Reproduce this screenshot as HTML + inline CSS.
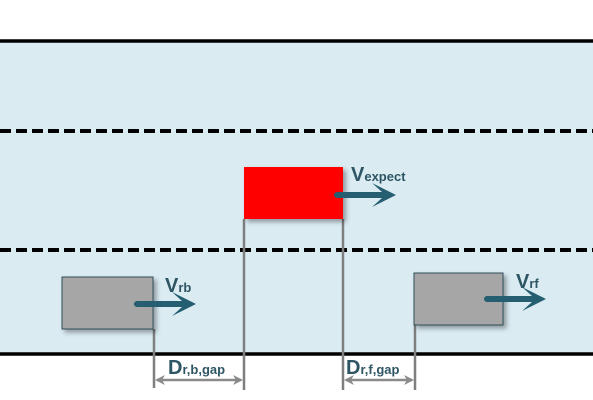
<!DOCTYPE html>
<html><head><meta charset="utf-8"><style>
body{margin:0;background:#fff}
svg{display:block;font-family:"Liberation Sans",sans-serif;font-weight:bold}
</style></head><body>
<svg width="593" height="400" viewBox="0 0 593 400">
<defs>
<filter id="sh" x="-20%" y="-20%" width="150%" height="160%"><feDropShadow dx="3" dy="3" stdDeviation="2.5" flood-color="#000" flood-opacity="0.35"/></filter>
<marker id="ah" viewBox="0 0 10 10" refX="8" refY="5" markerWidth="4" markerHeight="4" orient="auto-start-reverse"><path d="M0,0 L10,5 L0,10 L3,5 Z" fill="#8a8a8a"/></marker>
</defs>
<rect x="0" y="41" width="593" height="313" fill="#daebf2"/>
<line x1="0" y1="41" x2="593" y2="41" stroke="#000" stroke-width="3.5"/>
<line x1="0" y1="354" x2="593" y2="354" stroke="#000" stroke-width="3.5"/>
<line x1="0" y1="131" x2="593" y2="131" stroke="#000" stroke-width="4" stroke-dasharray="11,5"/>
<line x1="0" y1="250" x2="593" y2="250" stroke="#000" stroke-width="4" stroke-dasharray="11,5"/>
<g stroke="#7f7f7f" stroke-width="2.5">
<line x1="154" y1="329" x2="154" y2="388"/>
<line x1="244" y1="219" x2="244" y2="390"/>
<line x1="343" y1="219" x2="343" y2="390"/>
<line x1="415" y1="325" x2="415" y2="390"/>
</g>
<rect x="62" y="277" width="91" height="52" fill="#a6a6a6" stroke="#2f4f5a" stroke-width="1" filter="url(#sh)"/>
<rect x="244" y="167" width="99" height="52" fill="#ff0000" filter="url(#sh)"/>
<rect x="414" y="273" width="89" height="52" fill="#a6a6a6" stroke="#2f4f5a" stroke-width="1" filter="url(#sh)"/>
<g fill="#245e70">
<path d="M137,301 H182 L172,292 L196,304 L172,316 L182,307 H137 A3,3 0 0 1 137,301Z"/>
<path d="M337,192 H382 L372,183 L396,195 L372,207 L382,198 H337 A3,3 0 0 1 337,192Z"/>
<path d="M487,296 H532 L522,287 L546,299 L522,311 L532,302 H487 A3,3 0 0 1 487,296Z"/>
</g>
<g fill="#2e5563">
<text x="165" y="292" font-size="20">V<tspan font-size="13">rb</tspan></text>
<text x="351" y="181" font-size="20">V<tspan font-size="13">expect</tspan></text>
<text x="516" y="288" font-size="20">V<tspan font-size="13">rf</tspan></text>
<text x="168" y="374" font-size="20">D<tspan font-size="13">r,b,gap</tspan></text>
<text x="346" y="374" font-size="20">D<tspan font-size="13">r,f,gap</tspan></text>
</g>
<line x1="157" y1="380" x2="241" y2="380" stroke="#8a8a8a" stroke-width="2.5" marker-start="url(#ah)" marker-end="url(#ah)"/>
<line x1="346" y1="380" x2="412" y2="380" stroke="#8a8a8a" stroke-width="2.5" marker-start="url(#ah)" marker-end="url(#ah)"/>
</svg>
</body></html>
